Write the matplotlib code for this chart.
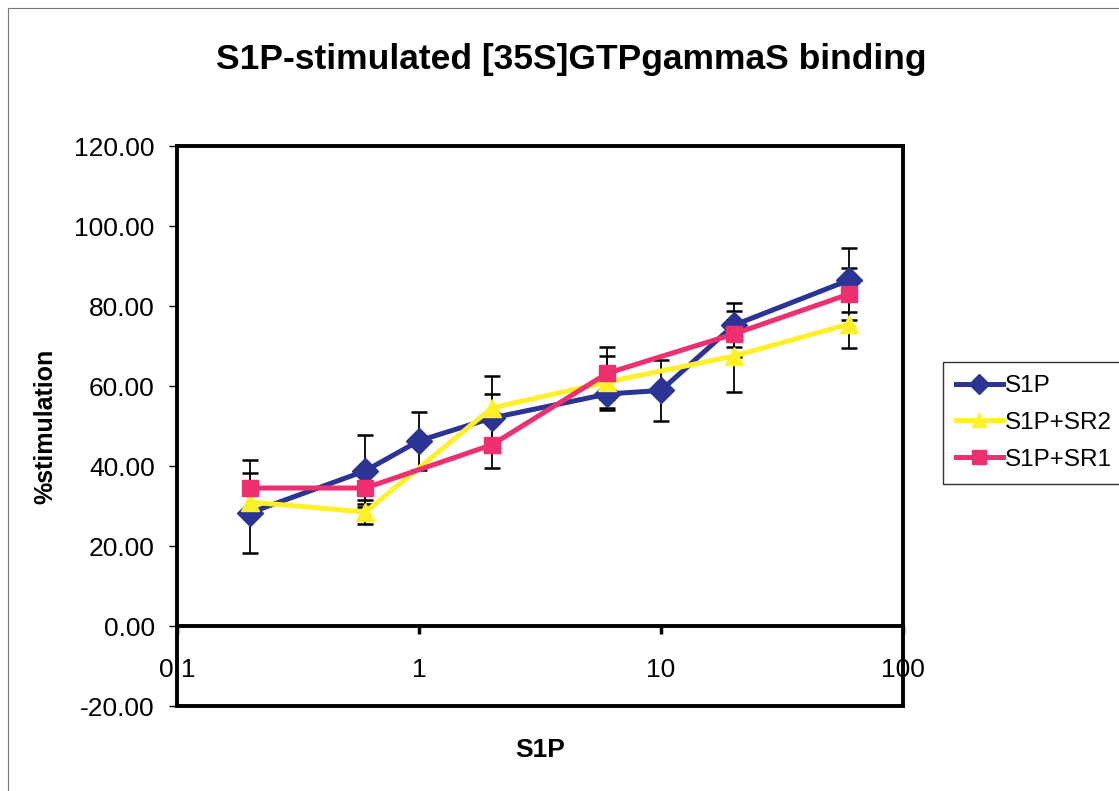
import matplotlib
matplotlib.use("Agg")
import matplotlib.pyplot as plt
from matplotlib.patches import Rectangle

plt.rcParams['font.family'] = ['Liberation Sans', 'DejaVu Sans']

# Data
x_s1p = [0.2, 0.6, 1, 2, 6, 10, 20, 60]
s1p = [28.3, 38.8, 46.3, 52.0, 58.0, 58.9, 75.2, 86.5]
s1p_err = [10.0, 9.0, 7.3, 6.0, 4.0, 7.6, 5.5, 8.0]

x_sr = [0.2, 0.6, 2, 6, 20, 60]
sr2 = [31.0, 28.5, 54.5, 61.0, 67.5, 75.5]
sr2_err = [2.0, 3.0, 8.0, 6.5, 9.0, 6.0]
sr1 = [34.5, 34.5, 45.3, 63.2, 73.0, 83.0]
sr1_err = [7.0, 4.0, 5.7, 6.5, 5.8, 6.5]

labels = ["S1P", "S1P+SR2", "S1P+SR1"]
colors = ["#2B3494", "#FFF02A", "#F0306E"]
yticks = [-20, 0, 20, 40, 60, 80, 100, 120]
xticks = [0.1, 1, 10, 100]
xticklabels = ["0.1", "1", "10", "100"]

W, H = 1119, 791
fig = plt.figure(figsize=(W / 100, H / 100), dpi=100)
fig.patch.set_facecolor("white")

# outer chart border
fig.patches.append(Rectangle((8 / W, -0.05), 1.2, 1 - 8 / H + 0.05, transform=fig.transFigure,
                             fill=False, edgecolor="#777777", linewidth=0.8))

ax = fig.add_axes([177 / W, 1 - 706 / H, 726 / W, 560 / H])
ax.set_xscale("log")
ax.set_xlim(0.1, 100)
ax.set_ylim(-20, 120)

series = [(x_s1p, s1p, s1p_err, "D", 13), (x_sr, sr2, sr2_err, "^", 13), (x_sr, sr1, sr1_err, "s", 12)]
for i, ((xs, ys, es, m, ms), lab, c) in enumerate(zip(series, labels, colors)):
    ax.errorbar(xs, ys, yerr=es, fmt="none", ecolor="black", elinewidth=1.3,
                capsize=6, capthick=1.8, zorder=2)
    ax.plot(xs, ys, color=c, linewidth=3.6, marker=m, markersize=ms,
            markeredgecolor=c, label=lab, zorder=3 + i)

for s in ax.spines.values():
    s.set_linewidth(2.8)
    s.set_color("black")
ax.spines["bottom"].set_position(("data", 0))
ax.axhline(-20, color="black", linewidth=2.8, clip_on=False, zorder=10)

ax.set_yticks(yticks)
ax.set_yticklabels([f"{v:.2f}" for v in yticks])
ax.set_xticks(xticks)
ax.set_xticklabels(xticklabels)
ax.xaxis.set_minor_locator(plt.NullLocator())
ax.tick_params(axis="y", direction="out", length=6, width=1, pad=10, labelsize=19)
ax.tick_params(axis="x", direction="out", length=6, width=2.5, pad=17, labelsize=19)

ax.set_ylabel("%stimulation", fontsize=18, fontweight="bold")
ax.yaxis.set_label_coords(-0.165, 0.5)
fig.text(540 / W, 1 - 750 / H, "S1P", fontsize=19, fontweight="bold", ha="center", va="center")
fig.text(571 / W, 1 - 60 / H, "S1P-stimulated [35S]GTPgammaS binding", fontsize=25.5,
         fontweight="bold", ha="center", va="center")

leg = ax.legend(loc="upper left", bbox_to_anchor=(943 / W, 1 - 362 / H),
                bbox_transform=fig.transFigure, fontsize=17.5, frameon=True, fancybox=False,
                edgecolor="black", borderpad=0.55, labelspacing=0.6, handlelength=1.9,
                handletextpad=0.1, borderaxespad=0, markerscale=0.8)
leg.get_frame().set_linewidth(1.0)

fig.savefig("out.png", dpi=100, facecolor="white")
